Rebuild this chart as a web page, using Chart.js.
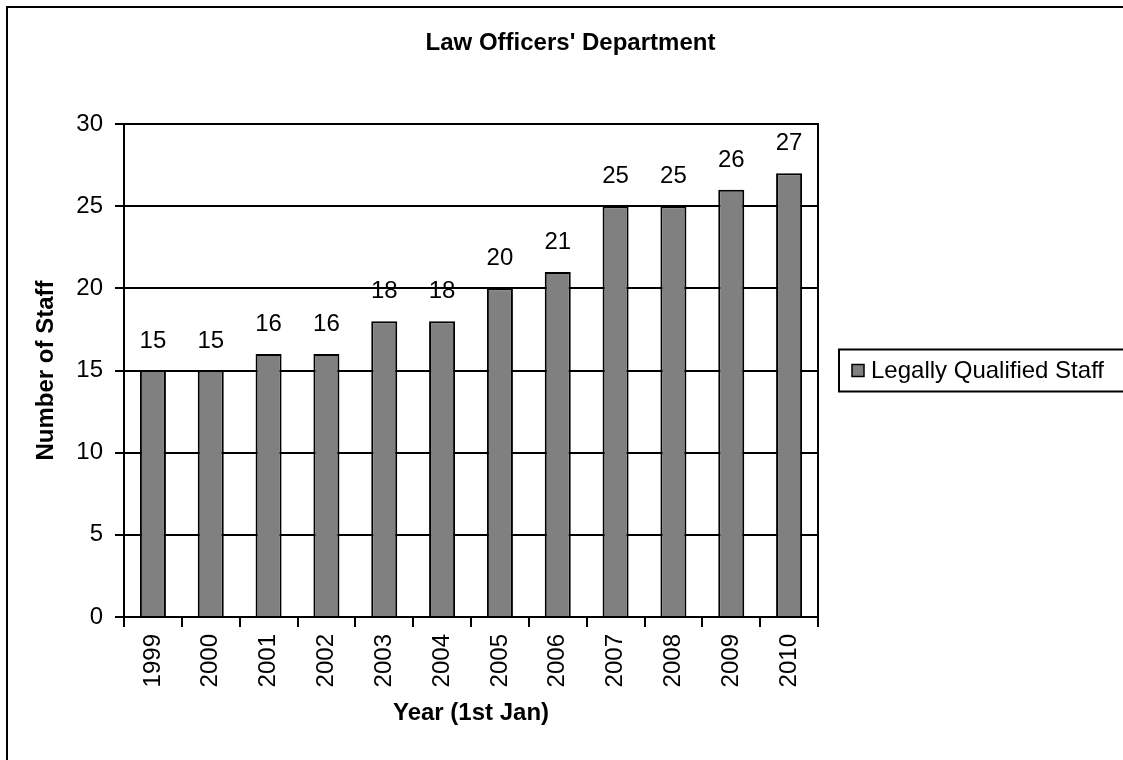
<!DOCTYPE html>
<html>
<head>
<meta charset="utf-8">
<title>Law Officers' Department</title>
<script src="https://cdn.jsdelivr.net/npm/chart.js@4.4.1/dist/chart.umd.min.js"></script>
<style>
  html, body { margin: 0; padding: 0; background: #fff; }
  #wrap { width: 1123px; height: 760px; }
</style>
</head>
<body>
<div id="wrap"><canvas id="staffChart" width="1123" height="760"></canvas></div>
<script>
// chart data
const years = ['1999', '2000', '2001', '2002', '2003', '2004', '2005', '2006', '2007', '2008', '2009', '2010'];
const staffCounts = [15, 15, 16, 16, 18, 18, 20, 21, 25, 25, 26, 27];
const yTicks = [0, 5, 10, 15, 20, 25, 30];
const seriesName = 'Legally Qualified Staff';

const FONT = "'Liberation Sans', Arial, sans-serif";

// white background, outer frame, plot border, value labels and legend box
const excelLook = {
  id: 'excelLook',
  beforeDraw(chart) {
    const ctx = chart.ctx;
    ctx.save();
    ctx.fillStyle = '#fff';
    ctx.fillRect(0, 0, chart.width, chart.height);
    ctx.strokeStyle = '#000';
    ctx.lineWidth = 2;
    ctx.strokeRect(7, 7, chart.width + 20, chart.height + 20);
    ctx.restore();
  },
  afterDatasetsDraw(chart) {
    const ctx = chart.ctx;
    const meta = chart.getDatasetMeta(0);
    const values = chart.data.datasets[0].data;
    ctx.save();
    ctx.fillStyle = '#000';
    ctx.font = '24px ' + FONT;
    ctx.textAlign = 'center';
    ctx.textBaseline = 'alphabetic';
    meta.data.forEach((bar, i) => {
      ctx.fillText(String(values[i]), bar.x, bar.y - 23);
    });
    ctx.restore();
  },
  afterDraw(chart) {
    const ctx = chart.ctx;
    const area = chart.chartArea;
    const ds = chart.data.datasets[0];
    ctx.save();
    ctx.strokeStyle = '#000';
    ctx.lineWidth = 2;
    ctx.beginPath();
    ctx.moveTo(area.left, area.top);
    ctx.lineTo(area.right, area.top);
    ctx.lineTo(area.right, area.bottom);
    ctx.stroke();

    // legend
    const boxX = area.right + 21;
    const midY = (area.top + area.bottom) / 2;
    ctx.strokeRect(boxX, midY - 21, chart.width, 42);
    ctx.fillStyle = ds.backgroundColor;
    ctx.fillRect(boxX + 13, midY - 6, 12, 12);
    ctx.lineWidth = 1.5;
    ctx.strokeRect(boxX + 13, midY - 6, 12, 12);
    ctx.fillStyle = '#000';
    ctx.font = '24px ' + FONT;
    ctx.textAlign = 'left';
    ctx.textBaseline = 'middle';
    ctx.fillText(ds.label, boxX + 32, midY + 1);
    ctx.restore();
  }
};

const ctx = document.getElementById('staffChart');
new Chart(ctx, {
  type: 'bar',
  data: {
    labels: years,
    datasets: [{
      label: seriesName,
      data: staffCounts,
      backgroundColor: '#808080',
      borderColor: '#000',
      borderWidth: 2,
      barPercentage: 0.45,
      categoryPercentage: 1
    }]
  },
  options: {
    responsive: false,
    animation: false,
    devicePixelRatio: 1,
    layout: { padding: { left: 18, top: 0, right: 0, bottom: 0 } },
    plugins: {
      legend: { display: false },
      tooltip: { enabled: false },
      title: {
        display: true,
        text: "Law Officers' Department",
        color: '#000',
        font: { family: FONT, size: 24, weight: 'bold', lineHeight: 1.2 },
        padding: { top: 29, bottom: 66.2 }
      }
    },
    scales: {
      x: {
        offset: true,
        grid: { offset: true, drawOnChartArea: false, color: '#000', lineWidth: 2, tickLength: 10 },
        border: { color: '#000', width: 2 },
        ticks: { color: '#000', font: { family: FONT, size: 24 }, minRotation: 90, maxRotation: 90, padding: 7 },
        title: {
          display: true,
          text: 'Year (1st Jan)',
          color: '#000',
          font: { family: FONT, size: 24, weight: 'bold', lineHeight: 1.2 },
          padding: { top: 0, bottom: 32 }
        },
        afterFit(scale) { scale.height = 143; }
      },
      y: {
        min: yTicks[0],
        max: yTicks[yTicks.length - 1],
        afterBuildTicks(scale) { scale.ticks = yTicks.map(v => ({ value: v })); },
        grid: { color: '#000', lineWidth: 2, tickLength: 9 },
        border: { color: '#000', width: 2 },
        ticks: { color: '#000', font: { family: FONT, size: 24 }, padding: 12 },
        title: {
          display: true,
          text: 'Number of Staff',
          color: '#000',
          font: { family: FONT, size: 24, weight: 'bold', lineHeight: 1.2 },
          padding: { top: 14, bottom: 0 }
        },
        afterFit(scale) { scale.width = 106; }
      },
      // empty axis that only keeps room for the legend on the right
      legendSpace: {
        type: 'linear',
        position: 'right',
        grid: { display: false },
        border: { display: false },
        ticks: { display: false },
        afterFit(scale) { scale.width = 305; }
      }
    }
  },
  plugins: [excelLook]
});
</script>
</body>
</html>
